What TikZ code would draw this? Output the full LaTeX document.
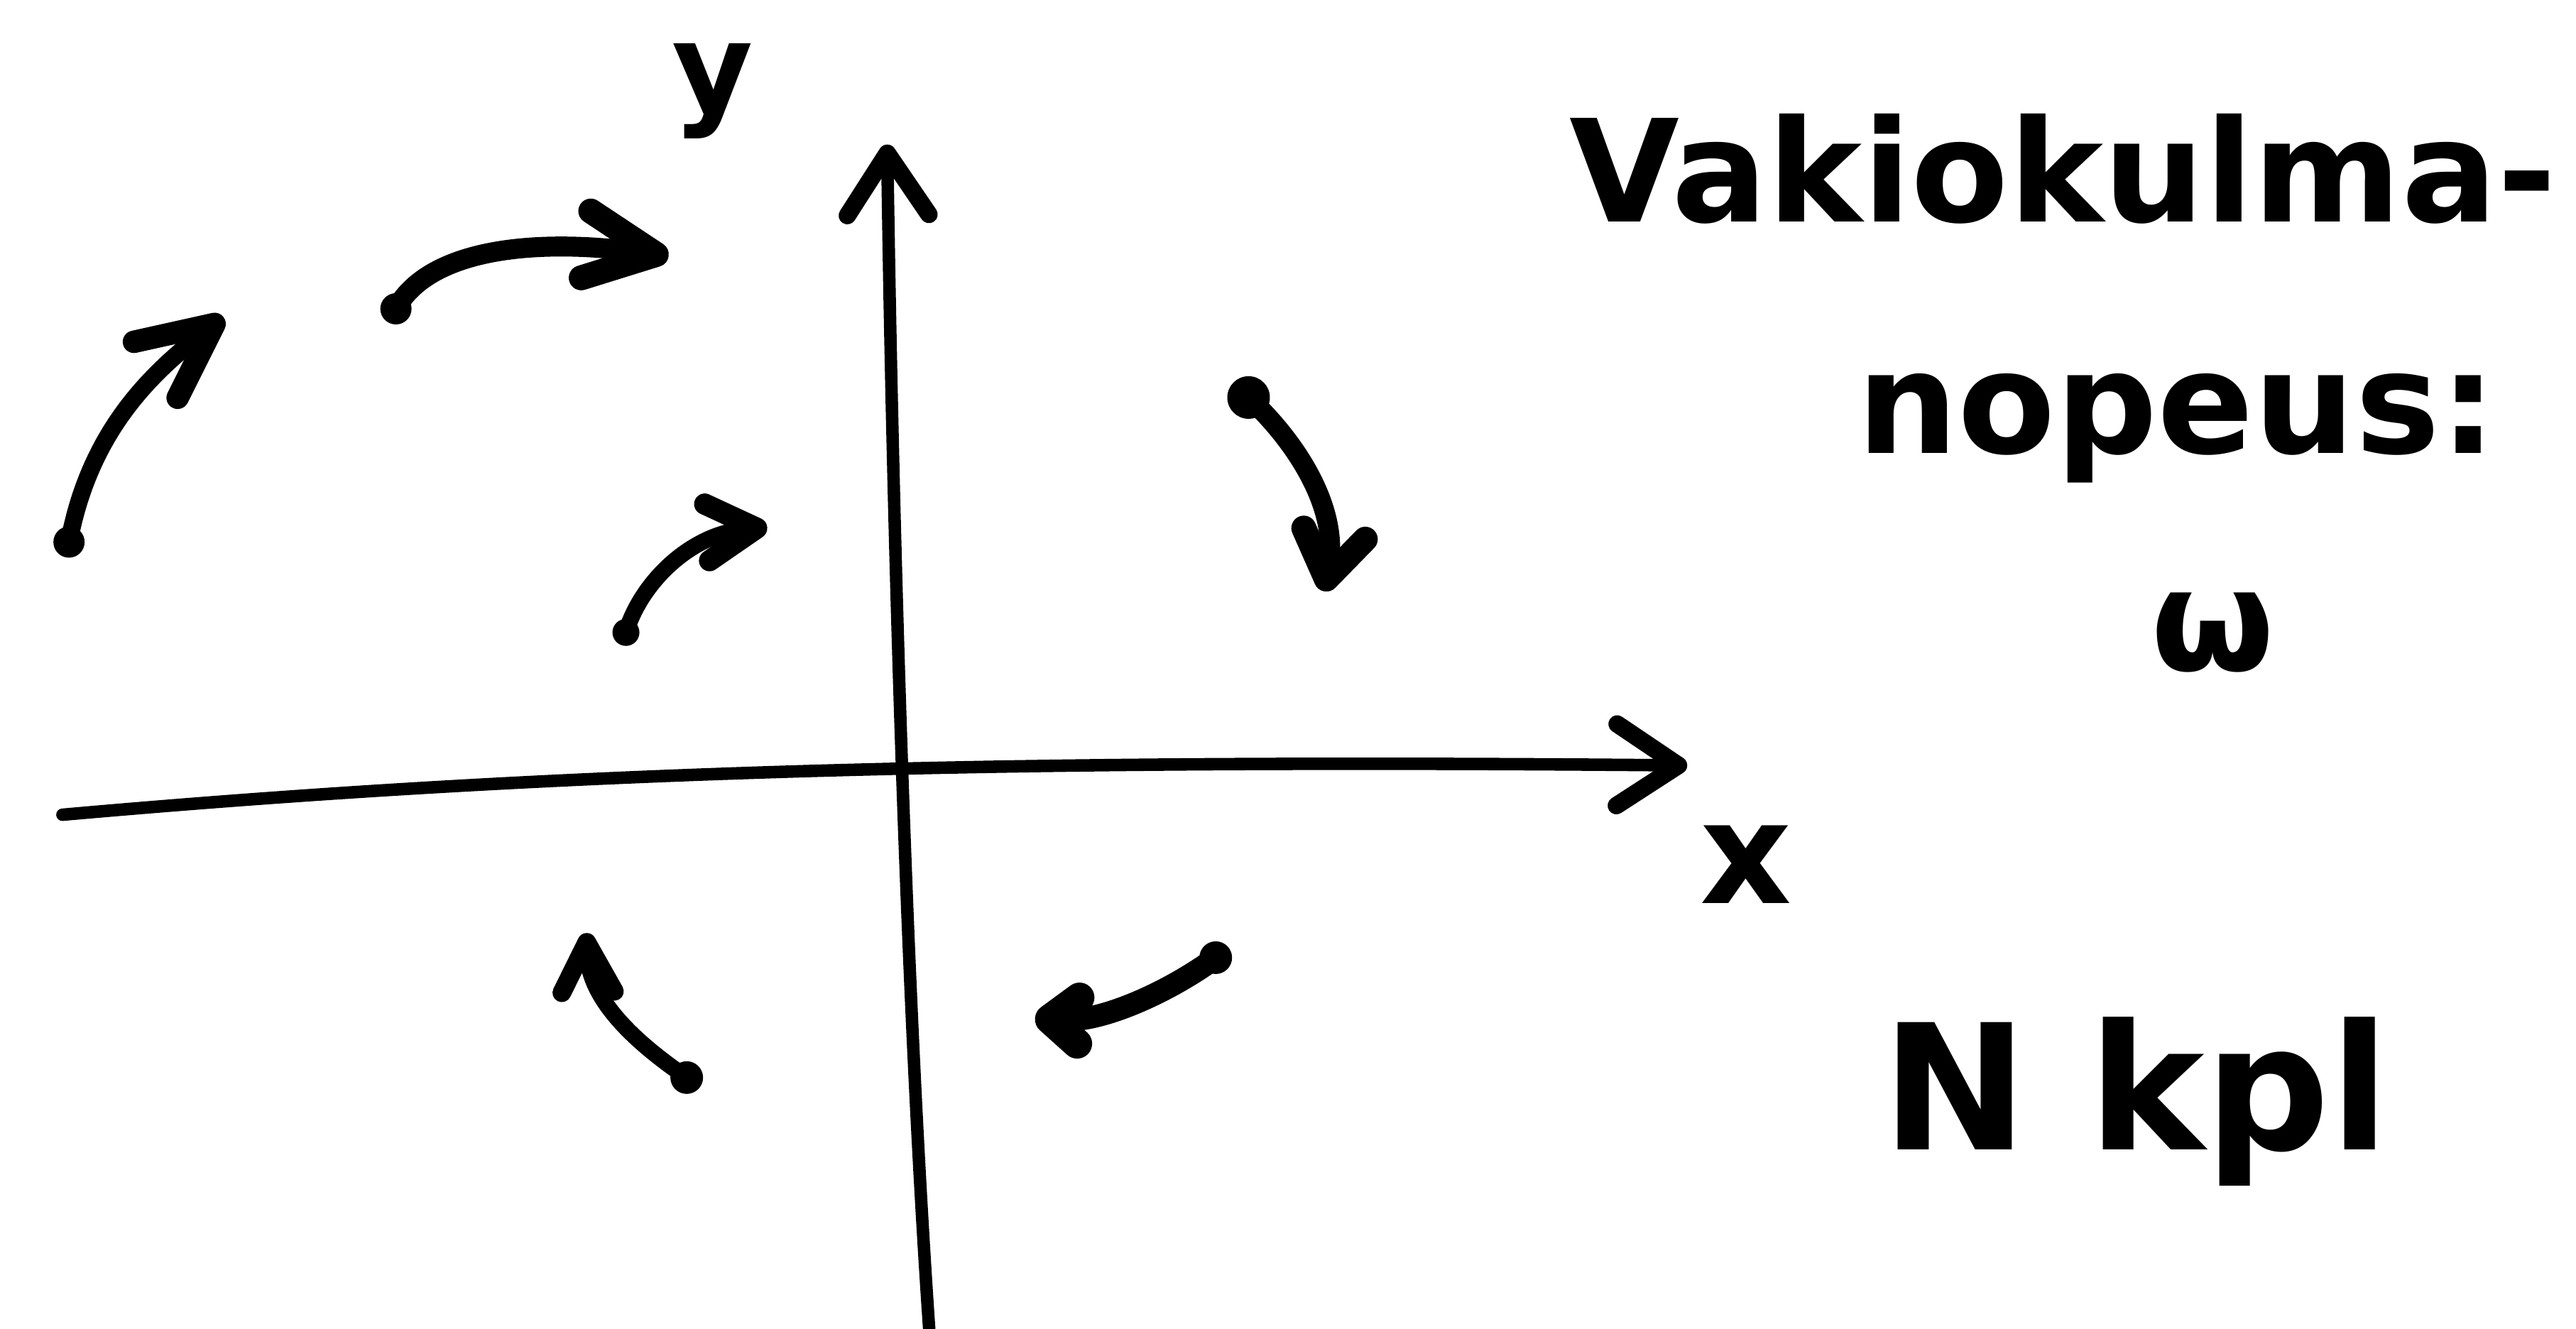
\documentclass[tikz,border=0pt]{standalone}
\usepackage{fontspec}
\setmainfont{DejaVu Sans}
\usepackage{tikz}
\usetikzlibrary{arrows.meta}

\begin{document}
\begin{tikzpicture}[
  x=0.2314mm, y=-0.2314mm,
  axis/.style={line width=5pt,line cap=round,
               -{Straight Barb[round,length=8.7mm,width=11.5mm,line width=7pt]}},
  rot/.style={line width=8pt,line cap=round},
  dot/.style={circle,fill=black,inner sep=0pt,minimum size=#1},
  dot/.default=4.4mm,
  lbl/.style={font=\fontsize{57}{62}\selectfont\bfseries,inner sep=0pt},
]
  \useasboundingbox (0,0) rectangle (1568,809);

  % axes
  \coordinate (xs) at (38,496);
  \coordinate (xe) at (1027,466);
  \coordinate (ys) at (566,815);
  \coordinate (ye) at (540,88);
  \draw[axis] (xs) .. controls (330,470) and (600,462) .. (xe);
  \draw[axis] (ys) .. controls (551,600) and (543,300) .. (ye);
  \node[lbl,anchor=base,font=\fontsize{50}{54}\selectfont\bfseries] (ylab) at (434,68) {y};
  \node[lbl,anchor=base] (xlab) at (1063,550) {x};

  % rotating points
  \node[dot] (t1) at (42,330) {};
  \coordinate (h1) at (136,193);
  \draw[rot,line width=7pt,-{Straight Barb[round,length=10.5mm,width=10mm,line width=9pt]}]
    (t1.center) .. controls (55,260) and (95,225) .. (h1);

  \node[dot] (t2) at (241,188) {};
  \coordinate (h2) at (407,156);
  \draw[rot,-{Straight Barb[round,length=10mm,width=9.5mm,line width=10pt]}]
    (t2.center) .. controls (262,150) and (330,145) .. (h2);

  \node[dot=3.8mm] (t3) at (381,385) {};
  \coordinate (h3) at (467,321);
  \draw[rot,line width=6.5pt,-{Straight Barb[round,length=7mm,width=8mm,line width=8.5pt]}]
    (t3.center) .. controls (390,355) and (420,325) .. (h3);

  \node[dot=6mm] (t4) at (760,242) {};
  \coordinate (h4) at (806,360);
  \draw[rot,-{Straight Barb[round,length=6.5mm,width=8.8mm,line width=10pt]}]
    (t4.center) .. controls (790,270) and (815,310) .. (h4);

  \node[dot=4.6mm] (t5) at (418,656) {};
  \coordinate (h5) at (357,568);
  \draw[rot,line width=6.5pt,-{Straight Barb[round,length=7mm,width=7.4mm,line width=7.5pt]}]
    (t5.center) .. controls (380,630) and (358,605) .. (h5);

  \node[dot=4.6mm] (t6) at (740,583) {};
  \coordinate (h6) at (630,620);
  \draw[rot,line width=9pt,-{Straight Barb[round,length=4mm,width=6.5mm,line width=12pt]}]
    (t6.center) .. controls (710,605) and (670,622) .. (h6);

  % text
  \node[lbl,anchor=base west] (head) at (955,135) {Vakiokulma-};
  \node[lbl,anchor=base west] (head2) at (1130,276) {nopeus:};
  \node[lbl,anchor=base] (omega) at (1347,408) {ω};
  \node[lbl,anchor=base west,font=\fontsize{70}{74}\selectfont\bfseries] (nkpl) at (1145,700) {N kpl};
\end{tikzpicture}
\end{document}
